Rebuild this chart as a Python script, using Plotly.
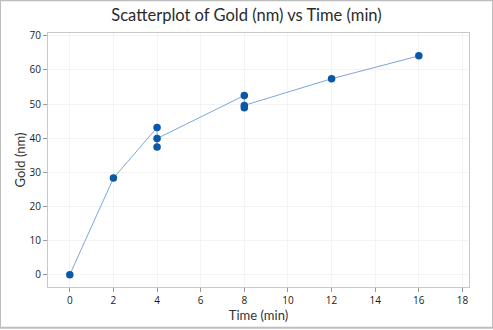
import plotly.graph_objects as go

time_min = [0, 2, 4, 4, 4, 8, 8, 8, 12, 16]
gold_nm = [0.0, 28.3, 43.1, 37.4, 39.9, 52.5, 48.9, 49.6, 57.4, 64.1]
x_ticks = [0, 2, 4, 6, 8, 10, 12, 14, 16, 18]
y_ticks = [0, 10, 20, 30, 40, 50, 60, 70]

fig = go.Figure()
fig.add_trace(go.Scatter(x=time_min, y=gold_nm, mode="lines",
                         line=dict(color="#7aa7da", width=1), hoverinfo="skip"))
fig.add_trace(go.Scatter(x=time_min, y=gold_nm, mode="markers",
                         marker=dict(color="#0b57a8", size=7.5)))

axis_common = dict(showline=True, linecolor="#c8c8c8", linewidth=1, mirror=True,
                   showgrid=True, gridcolor="#f3f3f3", gridwidth=1,
                   ticks="outside", ticklen=4, tickcolor="#999999",
                   zeroline=False, tickfont=dict(family="Open Sans", size=10, color="#1a1a1a"))

fig.update_layout(
    width=493, height=330,
    margin=dict(l=48, r=24, t=33, b=41),
    paper_bgcolor="white", plot_bgcolor="white",
    showlegend=False,
    title=dict(text="Scatterplot of Gold (nm) vs Time (min)", x=0.5, xanchor="center",
               y=0.955, yanchor="middle",
               font=dict(family="Lato", size=16.5, color="#2b2b2b")),
    xaxis=dict(range=[-1.0, 18.3], tickvals=x_ticks,
               title=dict(text="Time (min)", standoff=2,
                          font=dict(family="Lato", size=13, color="#333")),
               **axis_common),
    yaxis=dict(range=[-3.6, 70.8], tickvals=y_ticks,
               title=dict(text="Gold (nm)", standoff=1,
                          font=dict(family="Lato", size=13, color="#333")),
               **axis_common),
)
# outer frame around whole image
fig.add_shape(type="rect", xref="paper", yref="paper",
              x0=-48/421, x1=1+24/421, y0=-41/256, y1=1+33/256,
              line=dict(color="#bdbdbd", width=2))

fig.write_html("out.html")
